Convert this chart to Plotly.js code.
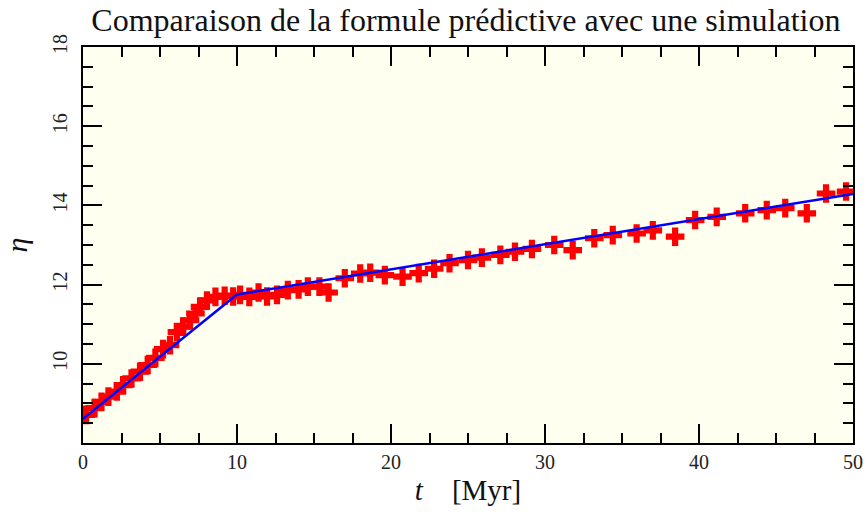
<!DOCTYPE html>
<html>
<head>
<meta charset="utf-8">
<script src="https://cdn.plot.ly/plotly-3.0.1.min.js"></script>
<style>html,body{margin:0;padding:0;background:#fff;}#chart{width:866px;height:519px;}</style>
</head>
<body>
<div id="chart"></div>
<script>
// Simulation points
const simT = [0.2, 0.75, 1.2, 1.65, 2.2, 2.6, 3.15, 3.7, 4.2, 4.7, 5.2, 5.65, 6.1, 6.5, 6.95, 7.3, 7.6, 8.05, 8.6, 9.2, 9.75,
  10.2, 10.8, 11.4, 11.95, 12.6, 13.3, 14.0, 14.6, 15.35, 15.95, 17.0, 18.0, 18.65, 19.6,
  20.75, 21.8, 22.8, 23.8, 25.0, 25.9, 27.1, 28.05, 29.15, 30.6, 31.8, 33.2, 34.4, 35.95, 37.0,
  38.45, 39.75, 41.15, 43.0, 44.4, 45.6, 47.0, 48.25, 49.55];
const simEta = [8.71, 8.88, 9.04, 9.17, 9.30, 9.46, 9.63, 9.80, 9.97, 10.15, 10.37, 10.47, 10.8, 10.94, 11.1, 11.27, 11.44, 11.6, 11.69, 11.72, 11.7,
  11.74, 11.69, 11.8, 11.7, 11.74, 11.86, 11.88, 11.95, 11.95, 11.8, 12.16, 12.28, 12.3, 12.24,
  12.2, 12.29, 12.4, 12.54, 12.62, 12.68, 12.75, 12.83, 12.9, 13.0, 12.87, 13.17, 13.25, 13.29, 13.37,
  13.21, 13.63, 13.71, 13.8, 13.88, 13.93, 13.8, 14.3, 14.35];
// Predictive formula (broken line)
const modelT = [0, 10, 50];
const modelEta = [8.61, 11.75, 14.29];
const xTicks = [0, 10, 20, 30, 40, 50];
const yTicks = [10, 12, 14, 16, 18];

const serif = '"Liberation Serif", "DejaVu Serif", serif';

const traces = [
  {x: simT, y: simEta, mode: 'markers', type: 'scatter',
   marker: {symbol: 'cross', size: 15.5, color: '#ff0000', line: {width: 0}}},
  {x: modelT, y: modelEta, mode: 'lines', type: 'scatter',
   line: {color: '#0000ff', width: 2.5}}
];

const axisCommon = {
  showgrid: false, zeroline: false, showline: true, linecolor: '#000', linewidth: 2,
  mirror: 'allticks', ticks: 'inside', ticklen: 19, tickwidth: 2, tickcolor: '#000',
  tickfont: {family: serif, size: 20, color: '#222'}
};

const layout = {
  width: 866, height: 519,
  margin: {l: 83, r: 13, t: 47, b: 76},
  paper_bgcolor: '#ffffff', plot_bgcolor: '#fffff0',
  showlegend: false,
  title: {text: 'Comparaison de la formule prédictive avec une simulation',
          font: {family: serif, size: 32, color: '#111'}, x: 0.538, xanchor: 'center', y: 0.962, yanchor: 'middle'},
  xaxis: Object.assign({}, axisCommon, {
    range: [0, 50], tickmode: 'array', tickvals: xTicks, ticktext: xTicks.map(String),
    minor: {tickmode: 'linear', tick0: 0, dtick: 2.5, ticklen: 10, tickwidth: 2, tickcolor: '#000', ticks: 'inside'},
    title: {text: '<i>t</i>\u00a0\u00a0\u00a0\u00a0[Myr]', font: {family: serif, size: 29, color: '#111'}, standoff: 8}
  }),
  yaxis: Object.assign({}, axisCommon, {
    range: [8, 18], tickmode: 'array', tickvals: yTicks, ticktext: yTicks.map(String), tickangle: -90,
    ticklabelstandoff: 6,
    minor: {tickmode: 'linear', tick0: 0, dtick: 0.5, ticklen: 10, tickwidth: 2, tickcolor: '#000', ticks: 'inside'},
    title: {text: '<i>η</i>', font: {family: serif, size: 30, color: '#111'}, standoff: 14}
  })
};

Plotly.newPlot('chart', traces, layout, {displayModeBar: false, staticPlot: true});
</script>
</body>
</html>
